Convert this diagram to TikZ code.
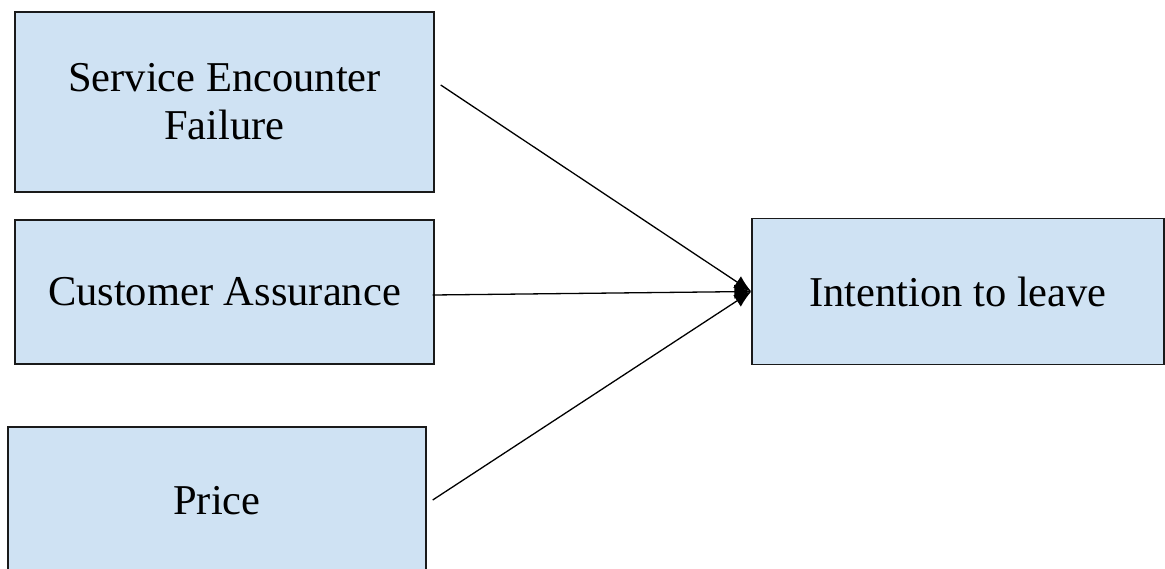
\documentclass[tikz,border=0pt]{standalone}
\usepackage{fontspec}
\setmainfont{Liberation Serif}
\usetikzlibrary{arrows.meta,calc}
\definecolor{boxfill}{HTML}{CFE2F3}
\definecolor{boxline}{HTML}{1A1A1A}
\begin{document}
\begin{tikzpicture}[x=1pt,y=-1pt,
  factor/.style={draw=boxline,line width=1.4pt,fill=boxfill,rectangle,inner sep=0pt,
    align=center,font=\fontsize{42.5}{48}\selectfont},
  link/.style={line width=1.3pt,-{Latex[length=17pt,width=14pt]}}]
\useasboundingbox (0,0) rectangle (1165,568);
\clip (0,0) rectangle (1165,568);
% the three factors on the left
\node[factor,minimum width=419pt,minimum height=180pt] (sef) at (224.5,102) {Service Encounter\\Failure};
\node[factor,minimum width=419pt,minimum height=144pt] (ca) at (224.5,292) {Customer Assurance};
\node[factor,minimum width=418pt,minimum height=147pt] (pr) at (217,500.5) {Price};
% the outcome on the right
\node[factor,minimum width=412pt,minimum height=146pt] (itl) at (958,291.5) {Intention to leave};
% arrows start just beside each factor and meet at the outcome
\coordinate (s1) at ($(sef.east)+(6,-17)$);
\coordinate (s2) at ($(ca.east)+(-2,3)$);
\coordinate (s3) at ($(pr.east)+(6,-0.5)$);
\draw[link] (s1) -- (itl.west);
\draw[link] (s2) -- (itl.west);
\draw[link] (s3) -- (itl.west);
\end{tikzpicture}
\end{document}
